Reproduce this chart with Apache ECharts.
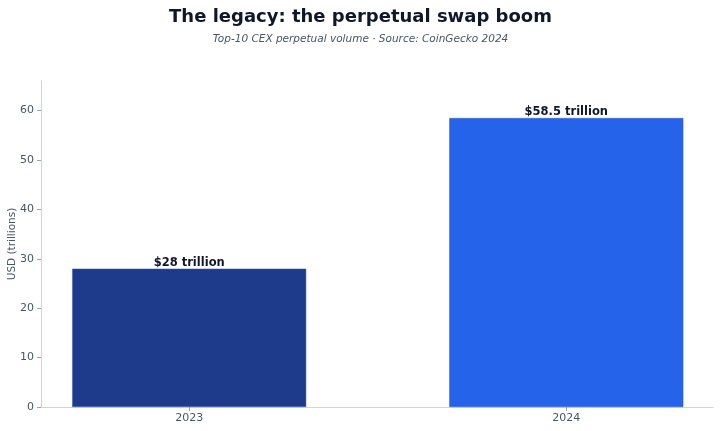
<!DOCTYPE html>
<html>
<head>
<meta charset="utf-8">
<script src="https://cdn.jsdelivr.net/npm/echarts@6/dist/echarts.min.js"></script>
<style>
  html, body { margin: 0; padding: 0; background: #fff; }
  #main { width: 721px; height: 431px; }
</style>
</head>
<body>
<div id="main"></div>
<script>
  var years = ['2023', '2024'];
  var volume = [28, 58.5];
  var barLabels = ['$28 trillion', '$58.5 trillion'];
  var barColors = ['#1e3a8a', '#2563eb'];
  var yTicks = [0, 10, 20, 30, 40, 50, 60];

  var chart = echarts.init(document.getElementById('main'));
  var font = 'DejaVu Sans';

  chart.setOption({
    animation: false,
    textStyle: { fontFamily: font },
    title: [{
      text: 'The legacy: the perpetual swap boom',
      left: 'center',
      top: 3,
      textStyle: { fontFamily: font, fontSize: 18, fontWeight: 'bold', color: '#0f172a' }
    }, {
      text: 'Top-10 CEX perpetual volume · Source: CoinGecko 2024',
      left: 'center',
      top: 29,
      textStyle: { fontFamily: font, fontSize: 10.5, fontStyle: 'italic', fontWeight: 'normal', color: '#475569' }
    }],
    grid: { left: 41, right: 8, top: 81, bottom: 24, outerBoundsMode: 'none', containLabel: false },
    xAxis: {
      type: 'value',
      min: -0.393,
      max: 1.389,
      splitLine: { show: false },
      axisLine: { show: true, onZero: false, lineStyle: { color: '#cbd5e1' } },
      axisTick: { show: true, customValues: [0, 1], length: 4, lineStyle: { color: '#94a3b8' } },
      axisLabel: {
        customValues: [0, 1],
        formatter: function (v) { return years[Math.round(v)]; },
        color: '#475569', fontSize: 11, margin: 6
      }
    },
    yAxis: {
      type: 'value',
      min: 0,
      max: 66,
      name: 'USD (trillions)',
      nameLocation: 'middle',
      nameGap: 23,
      nameMoveOverlap: false,
      nameTextStyle: { color: '#475569', fontSize: 10.5 },
      splitLine: { show: false },
      axisLine: { show: true, onZero: false, lineStyle: { color: '#cbd5e1' } },
      axisTick: { show: true, customValues: yTicks, length: 4, lineStyle: { color: '#94a3b8' } },
      axisLabel: { customValues: yTicks, color: '#475569', fontSize: 11, margin: 7 }
    },
    series: [{
      type: 'bar',
      barWidth: 234,
      data: volume.map(function (v, i) {
        return { value: [i, v], itemStyle: { color: barColors[i], borderColor: '#3b5bb5', borderWidth: 0.5 } };
      }),
      label: {
        show: true,
        position: 'top',
        distance: 0,
        formatter: function (p) { return barLabels[p.dataIndex]; },
        color: '#0f172a',
        fontSize: 11.5,
        fontWeight: 'bold',
        fontFamily: font
      }
    }]
  });
</script>
</body>
</html>
